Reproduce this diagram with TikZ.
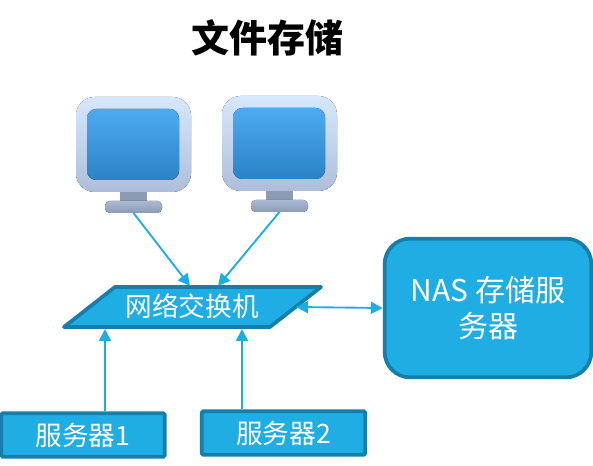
\documentclass[tikz,border=0pt]{standalone}
\usepackage{fontspec}
\setmainfont{Noto Sans CJK SC}
\usetikzlibrary{arrows.meta}
\definecolor{boxfill}{HTML}{1FADE4}
\definecolor{boxline}{HTML}{157FAA}
\definecolor{linkblue}{HTML}{1CADE4}
\definecolor{frametop}{HTML}{D6E8FD}
\definecolor{framebot}{HTML}{AEBEDA}
\definecolor{screentop}{HTML}{4DAAF2}
\definecolor{screenbot}{HTML}{2C82C6}
\definecolor{neckgray}{HTML}{8C9BB5}
\definecolor{basetop}{HTML}{AABAD2}
\definecolor{basebot}{HTML}{8B9BB7}
\tikzset{
    boxtext/.style={text=white, font=\fontsize{20pt}{27pt}\selectfont, align=center},
    serverbox/.style={boxtext, draw=boxline, fill=boxfill, line width=2.8pt, rounded corners=1pt, minimum width=122.5pt, minimum height=32.5pt, inner sep=0pt},
    link/.style={draw=linkblue, line width=1.4pt, -{Triangle[length=9pt,width=9pt]}},
    biglink/.style={draw=linkblue, line width=1.4pt, {Triangle[length=9pt,width=9pt]}-{Triangle[length=9pt,width=9pt]}}
}
\begin{document}
\begin{tikzpicture}[x=0.75pt, y=-0.75pt]
    \useasboundingbox (0,0) rectangle (593,466);

    % Title
    \node (title) at (267.5,38) {\fontsize{28.5pt}{30pt}\selectfont\bfseries 文件存储};

    % Monitors
    \foreach \dx/\dy/\name in {0/0/pcA, 146/-1/pcB} {
        \begin{scope}[shift={(\dx,\dy)}]
            \fill[top color=frametop, bottom color=framebot, rounded corners=14pt] (76,97) rectangle (191,192); % Outer frame
            \fill[top color=screentop, bottom color=screenbot, rounded corners=7pt] (87,109) rectangle (179,180); % Screen
            \fill[neckgray] (120,192) rectangle (147,202); % Neck
            \fill[top color=basetop, bottom color=basebot, rounded corners=3.5pt] (105,201) rectangle (162,213); % Base
            \coordinate (\name) at (133.5,213);
        \end{scope}
    }

    % Network switch
    \draw[boxline, fill=boxfill, line width=2.8pt, line join=round] (115,287) -- (321,287) -- (270,327) -- (64,327) -- cycle;
    \node[boxtext] (switch) at (192,306) {网络交换机};
    \coordinate (swA) at (190,286);
    \coordinate (swB) at (218,286);
    \coordinate (swC) at (296,307);
    \coordinate (swD) at (105,329);
    \coordinate (swE) at (242,329);

    % Servers and NAS
    \node[serverbox] (srvA) at (83,435) {服务器1};
    \node[serverbox] (srvB) at (283.5,433) {服务器2};
    \node[boxtext, font=\fontsize{22.5pt}{27pt}\selectfont, draw=boxline, fill=boxfill, line width=2.8pt, rounded corners=19pt, minimum width=155pt, minimum height=104pt, inner sep=0pt] (nas) at (488,308) {NAS 存储服\\务器};

    % Links
    \draw[link] (pcA) -- (swA);
    \draw[link] (pcB) -- (swB);
    \draw[biglink] (swC) -- (nas.west);
    \draw[link] (srvA.north -| swD) -- (swD);
    \draw[link] (srvB.north -| swE) -- (swE);
\end{tikzpicture}
\end{document}
